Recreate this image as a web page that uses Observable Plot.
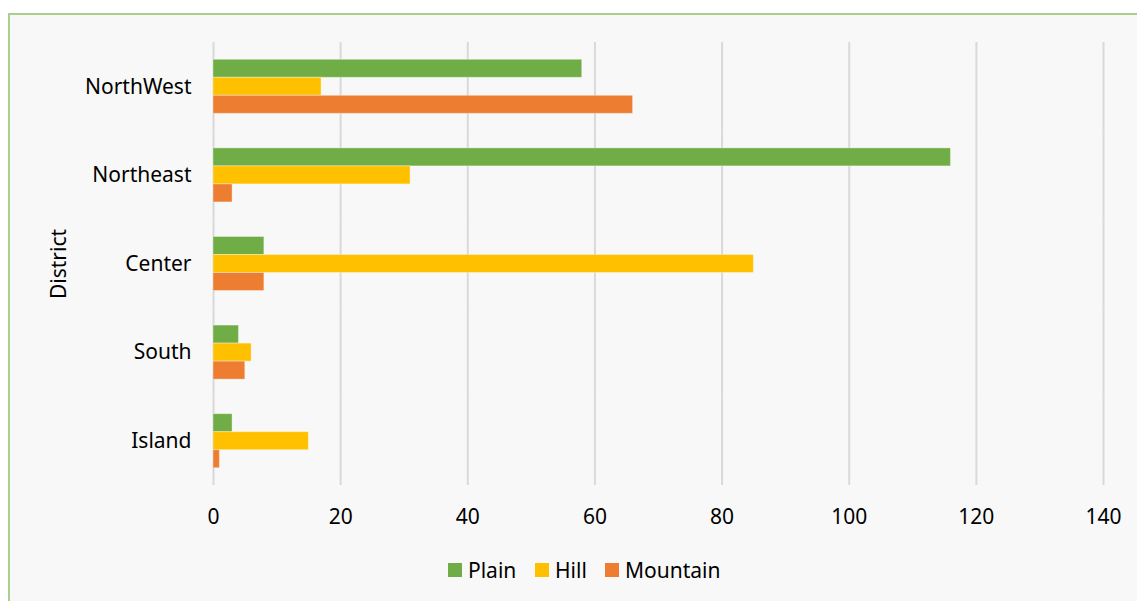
<!DOCTYPE html>
<html>
<head>
<meta charset="utf-8">
<script src="https://cdn.jsdelivr.net/npm/d3@7"></script>
<script src="https://cdn.jsdelivr.net/npm/@observablehq/plot@0.6"></script>
<style>
  html, body { margin: 0; padding: 0; background: #ffffff; width: 1137px; height: 601px; overflow: hidden; }
  #frame { position: absolute; left: 8px; top: 13px; width: 1140px; height: 600px; border: 2px solid #a9d18e; background: #f8f8f8; box-sizing: border-box; }
  #chart { position: absolute; left: 0; top: 0; }
  #legend { position: absolute; left: 0; top: 558px; width: 1137px; font-family: "Noto Sans", sans-serif; font-size: 21px; color: #000; }
  .item { position: absolute; top: 0; display: flex; align-items: center; height: 24px; }
  .sw { width: 14px; height: 14px; margin-right: 6px; }
</style>
</head>
<body>
<div id="frame"></div>
<div id="chart"></div>
<div id="legend"></div>
<script>
const districts = ["NorthWest", "Northeast", "Center", "South", "Island"];
const series = ["Plain", "Hill", "Mountain"];
const plain = [58, 116, 8, 4, 3];
const hill = [17, 31, 85, 6, 15];
const mountain = [66, 3, 8, 5, 1];
const xTicks = [0, 20, 40, 60, 80, 100, 120, 140];
const colors = ["#70AD47", "#FFC000", "#ED7D31"];

const valuesBySeries = {Plain: plain, Hill: hill, Mountain: mountain};
const data = [];
districts.forEach((d, i) => {
  series.forEach(s => data.push({district: d, series: s, value: valuesBySeries[s][i]}));
});

const plot = Plot.plot({
  width: 1137,
  height: 540,
  marginLeft: 213,
  marginRight: 34,
  marginTop: 42,
  marginBottom: 55,
  style: {background: "transparent", fontFamily: "Noto Sans, sans-serif", fontSize: "21px", color: "#000"},
  x: {domain: [0, 140], ticks: xTicks, tickSize: 0, tickPadding: 24, label: null},
  y: {domain: series, paddingInner: 0, paddingOuter: 0.96, round: false, axis: null},
  fy: {domain: districts, padding: 0, round: false, tickSize: 0, tickPadding: 22, label: "District", labelAnchor: "center", labelOffset: 162},
  color: {domain: series, range: colors},
  marks: [
    Plot.ruleX(xTicks, {stroke: "#d9d9d9", strokeWidth: 2}),
    Plot.barX(data, {x: "value", y: "series", fy: "district", fill: "series", insetTop: 0, insetBottom: 0, stroke: "#ffffff", strokeOpacity: 0.35, strokeWidth: 1})
  ]
});
document.getElementById("chart").appendChild(plot);

const legend = document.getElementById("legend");
const lefts = [448, 535, 605];
series.forEach((s, i) => {
  const it = document.createElement("div");
  it.className = "item";
  it.style.left = lefts[i] + "px";
  it.innerHTML = `<span class="sw" style="background:${colors[i]}"></span><span>${s}</span>`;
  legend.appendChild(it);
});
</script>
</body>
</html>
